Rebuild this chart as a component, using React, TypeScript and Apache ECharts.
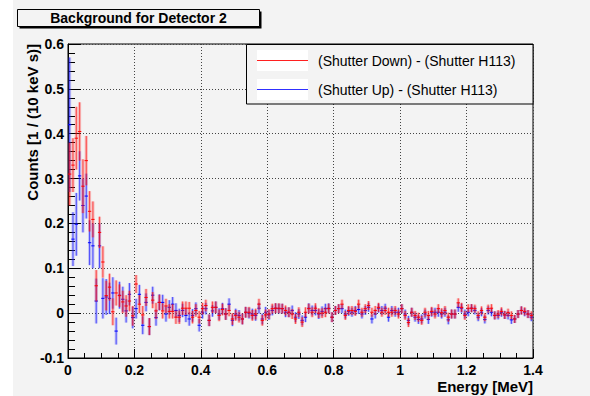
import React, { useEffect, useRef } from "react";
import * as echarts from "echarts";

// Bin width 10 keV, 140 bins from 0 to 1.4 MeV
const BIN_WIDTH = 0.01;

// (Shutter Down) - (Shutter H113)
const downValues = [
  0.31, 0.33, 0.39, 0.405, 0.283, 0.34, 0.227, 0.209, 0.061, 0.18,
  0.114, 0.039, 0.058, 0.003, 0.045, 0.039, 0.025, 0.016, 0.027, -0.006,
  0.065, 0.02, -0.004, 0.035, -0.03, 0.029, 0.005, 0.024, 0.005, 0.016,
  0.004, 0.004, -0.009, -0.009, 0.011, 0.011, 0.011, -0.009, 0.006, -0.009,
  0.01, 0.017, -0.016, 0.013, 0.013, -0.005, 0.008, -0.002, 0.006, -0.013,
  -0.005, -0.009, -0.013, 0.002, 0.002, -0.005, -0.002, 0.02, -0.016, -0.004,
  -0.002, 0.01, 0.011, 0.011, 0.01, 0.006, 0.002, -0.002, -0.013, 0.002,
  -0.02, 0.002, 0.01, 0.002, 0.011, 0.0, 0.0, 0.002, 0.01, -0.009,
  0.006, 0.01, 0.02, -0.005, 0.006, 0.006, 0.004, 0.02, 0.002, 0.01,
  0.017, 0.002, 0.006, 0.013, 0.002, 0.006, 0.002, 0.002, 0.006, -0.002,
  0.01, -0.005, -0.021, 0.002, -0.005, -0.009, -0.016, 0.002, -0.005, 0.004,
  -0.002, 0.01, 0.001, 0.006, -0.009, -0.002, -0.002, 0.023, 0.013, -0.005,
  0.011, 0.011, 0.01, -0.005, 0.006, -0.009, 0.01, 0.011, -0.005, -0.002,
  0.004, -0.004, 0.001, -0.005, -0.013, -0.002, 0.006, 0.004, -0.002, -0.005,
];
const downErrors = [
  0.07, 0.06, 0.07, 0.065, 0.06, 0.055, 0.045, 0.04, 0.035, 0.035,
  0.035, 0.033, 0.03, 0.03, 0.028, 0.025, 0.025, 0.024, 0.023, 0.022,
  0.02, 0.02, 0.02, 0.019, 0.019, 0.018, 0.018, 0.017, 0.017, 0.016,
  0.016, 0.016, 0.015, 0.015, 0.015, 0.015, 0.014, 0.014, 0.014, 0.014,
  0.013, 0.013, 0.013, 0.013, 0.013, 0.013, 0.013, 0.013, 0.013, 0.013,
  0.012, 0.012, 0.012, 0.012, 0.012, 0.012, 0.012, 0.012, 0.012, 0.012,
  0.011, 0.011, 0.011, 0.011, 0.011, 0.011, 0.011, 0.011, 0.011, 0.011,
  0.011, 0.011, 0.011, 0.011, 0.011, 0.011, 0.011, 0.011, 0.011, 0.011,
  0.01, 0.01, 0.01, 0.01, 0.01, 0.01, 0.01, 0.01, 0.01, 0.01,
  0.01, 0.01, 0.01, 0.01, 0.01, 0.01, 0.01, 0.01, 0.01, 0.01,
  0.01, 0.01, 0.01, 0.01, 0.01, 0.01, 0.01, 0.01, 0.01, 0.01,
  0.01, 0.01, 0.01, 0.01, 0.01, 0.01, 0.01, 0.01, 0.01, 0.01,
  0.009, 0.009, 0.009, 0.009, 0.009, 0.009, 0.009, 0.009, 0.009, 0.009,
  0.009, 0.009, 0.009, 0.009, 0.009, 0.009, 0.009, 0.009, 0.009, 0.009,
];

// (Shutter Up) - (Shutter H113)
const upValues = [
  0.42, 0.165, 0.198, 0.306, 0.24, 0.261, 0.157, 0.15, 0.027, 0.15,
  0.033, 0.036, 0.033, 0.045, -0.04, 0.04, 0.031, 0.005, 0.042, -0.01,
  0.01, 0.042, -0.027, 0.024, -0.03, 0.04, -0.01, 0.024, 0.024, -0.002,
  0.013, 0.02, 0.006, -0.005, 0.006, -0.005, -0.013, -0.005, 0.01, -0.027,
  0.002, 0.01, -0.016, 0.005, 0.013, -0.002, 0.01, -0.002, 0.02, -0.016,
  -0.002, -0.005, -0.013, 0.002, 0.0, -0.002, -0.005, 0.011, -0.013, 0.002,
  -0.004, 0.006, 0.011, 0.01, 0.01, 0.002, 0.002, 0.006, -0.009, -0.002,
  -0.016, -0.009, 0.011, 0.006, 0.006, -0.002, 0.004, 0.01, 0.011, -0.009,
  0.006, 0.01, 0.01, -0.002, 0.004, 0.002, 0.006, 0.008, -0.002, 0.006,
  0.013, -0.013, -0.002, 0.011, 0.006, 0.011, -0.009, 0.006, 0.002, 0.002,
  0.01, -0.002, -0.016, 0.002, -0.009, -0.014, -0.013, -0.002, -0.014, 0.002,
  0.002, 0.002, -0.002, 0.002, -0.015, -0.002, -0.002, 0.013, 0.011, -0.002,
  0.002, 0.011, 0.006, -0.009, 0.002, -0.014, 0.006, 0.002, -0.005, -0.005,
  0.001, -0.004, -0.005, -0.015, -0.013, -0.002, 0.006, 0.002, -0.002, -0.009,
];
const upErrors = [
  0.15, 0.06, 0.07, 0.055, 0.06, 0.05, 0.05, 0.05, 0.05, 0.05,
  0.045, 0.04, 0.035, 0.035, 0.03, 0.03, 0.028, 0.026, 0.025, 0.024,
  0.022, 0.021, 0.02, 0.02, 0.019, 0.019, 0.018, 0.018, 0.017, 0.017,
  0.016, 0.016, 0.016, 0.015, 0.015, 0.015, 0.015, 0.014, 0.014, 0.014,
  0.014, 0.013, 0.013, 0.013, 0.013, 0.013, 0.013, 0.013, 0.013, 0.013,
  0.012, 0.012, 0.012, 0.012, 0.012, 0.012, 0.012, 0.012, 0.012, 0.012,
  0.011, 0.011, 0.011, 0.011, 0.011, 0.011, 0.011, 0.011, 0.011, 0.011,
  0.011, 0.011, 0.011, 0.011, 0.011, 0.011, 0.011, 0.011, 0.011, 0.011,
  0.01, 0.01, 0.01, 0.01, 0.01, 0.01, 0.01, 0.01, 0.01, 0.01,
  0.01, 0.01, 0.01, 0.01, 0.01, 0.01, 0.01, 0.01, 0.01, 0.01,
  0.01, 0.01, 0.01, 0.01, 0.01, 0.01, 0.01, 0.01, 0.01, 0.01,
  0.01, 0.01, 0.01, 0.01, 0.01, 0.01, 0.01, 0.01, 0.01, 0.01,
  0.009, 0.009, 0.009, 0.009, 0.009, 0.009, 0.009, 0.009, 0.009, 0.009,
  0.009, 0.009, 0.009, 0.009, 0.009, 0.009, 0.009, 0.009, 0.009, 0.009,
];

const energies = downValues.map((_, i) => +((i + 0.5) * BIN_WIDTH).toFixed(4));

const titleText = "Background for Detector 2";
const xTitle = "Energy [MeV]";
const yTitle = "Counts [1 / (10 keV s)]";
const legendDown = "(Shutter Down) - (Shutter H113)";
const legendUp = "(Shutter Up) - (Shutter H113)";

const FONT = "'Liberation Sans', Arial, Helvetica, sans-serif";
const BG = "#f3f3f3";

function makeRender(color: string, band: string) {
  return (params: any, api: any) => {
    const x = api.value(0);
    const y = api.value(1);
    const e = api.value(2);
    const c = api.coord([x, y]);
    const t = api.coord([x, y + e]);
    const b = api.coord([x, y - e]);
    const hw = api.size([BIN_WIDTH, 0])[0] / 2;
    return {
      type: "group",
      children: [
        {
          type: "rect",
          shape: { x: c[0] - 1.5, y: t[1], width: 3, height: b[1] - t[1] },
          style: { fill: band },
        },
        {
          type: "line",
          shape: { x1: c[0], y1: t[1], x2: c[0], y2: b[1] },
          style: { stroke: color, lineWidth: 1, opacity: 0.6 },
        },
        {
          type: "line",
          shape: { x1: c[0] - hw, y1: c[1], x2: c[0] + hw, y2: c[1] },
          style: { stroke: color, lineWidth: 1 },
        },
      ],
    };
  };
}

export default function App() {
  const ref = useRef<HTMLDivElement>(null);
  useEffect(() => {
    document.body.style.margin = "0";
    const chart = echarts.init(ref.current!, null, { renderer: "svg" });
    const upData = energies.map((x, i) => [x, upValues[i], upErrors[i]]);
    const downData = energies.map((x, i) => [x, downValues[i], downErrors[i]]);
    const option: any = {
      animation: false,
      backgroundColor: "#ffffff",
      grid: {
        left: 68,
        top: 44,
        right: 57,
        bottom: 38,
        show: true,
        borderColor: "#000",
        borderWidth: 1,
        backgroundColor: "transparent",
      },
      xAxis: {
        type: "value",
        min: 0,
        max: 1.4,
        interval: 0.2,
        axisLine: { show: true, onZero: false, lineStyle: { color: "#000", width: 1 } },
        axisTick: { show: true, inside: true, length: 9, lineStyle: { color: "#000" } },
        minorTick: { show: true, splitNumber: 4, length: 5, lineStyle: { color: "#000" } },
        splitLine: { show: true, lineStyle: { color: "#444", type: [1, 2], width: 1 } },
        axisLabel: {
          color: "#000",
          fontFamily: FONT,
          fontWeight: "bold",
          fontSize: 14,
          margin: 5,
        },
      },
      yAxis: {
        type: "value",
        min: -0.1,
        max: 0.6,
        interval: 0.1,
        axisLine: { show: true, onZero: false, lineStyle: { color: "#000", width: 1 } },
        axisTick: { show: true, inside: true, length: 13, lineStyle: { color: "#000" } },
        minorTick: { show: true, splitNumber: 5, length: 7, lineStyle: { color: "#000" } },
        splitLine: { show: true, lineStyle: { color: "#444", type: [1, 2], width: 1 } },
        axisLabel: {
          color: "#000",
          fontFamily: FONT,
          fontWeight: "bold",
          fontSize: 14,
          margin: 4,
        },
      },
      series: [
        {
          type: "custom",
          name: legendUp,
          data: upData,
          clip: true,
          encode: { x: 0, y: 1 },
          renderItem: makeRender("#0000ff", "rgba(70,70,255,0.3)"),
        },
        {
          type: "custom",
          name: legendDown,
          data: downData,
          clip: true,
          encode: { x: 0, y: 1 },
          renderItem: makeRender("#ff0000", "rgba(255,50,50,0.32)"),
        },
      ],
      graphic: [
        {
          type: "rect",
          z: -100,
          silent: true,
          shape: { x: 13, y: 0, width: 577, height: 396 },
          style: { fill: BG },
        },
        // title box with shadow
        {
          type: "rect",
          z: 100,
          shape: { x: 19.5, y: 11.5, width: 242, height: 17 },
          style: { fill: "#000" },
        },
        {
          type: "rect",
          z: 101,
          shape: { x: 17.5, y: 9.5, width: 242, height: 17 },
          style: { fill: BG, stroke: "#000", lineWidth: 1 },
        },
        {
          type: "text",
          z: 102,
          x: 138.5,
          y: 18,
          style: {
            text: titleText,
            fill: "#000",
            font: `bold 14px ${FONT}`,
            align: "center",
            verticalAlign: "middle",
          },
        },
        // axis titles
        {
          type: "text",
          z: 102,
          x: 533,
          y: 386,
          style: {
            text: xTitle,
            fill: "#000",
            font: `bold 15px ${FONT}`,
            align: "right",
            verticalAlign: "middle",
          },
        },
        {
          type: "text",
          z: 102,
          x: 32,
          y: 44,
          rotation: Math.PI / 2,
          style: {
            text: yTitle,
            fill: "#000",
            font: `bold 15px ${FONT}`,
            align: "right",
            verticalAlign: "middle",
          },
        },
        // legend
        {
          type: "rect",
          z: 100,
          shape: { x: 246.5, y: 44.5, width: 286.5, height: 59.5 },
          style: { fill: BG, stroke: "#000", lineWidth: 1 },
        },
        {
          type: "rect",
          z: 101,
          shape: { x: 257, y: 50, width: 51, height: 21 },
          style: { fill: "#ffffff" },
        },
        {
          type: "rect",
          z: 101,
          shape: { x: 257, y: 79, width: 51, height: 21 },
          style: { fill: "#ffffff" },
        },
        {
          type: "line",
          z: 102,
          shape: { x1: 257, y1: 60.5, x2: 308, y2: 60.5 },
          style: { stroke: "#ff2020", lineWidth: 1.2 },
        },
        {
          type: "line",
          z: 102,
          shape: { x1: 257, y1: 89.5, x2: 308, y2: 89.5 },
          style: { stroke: "#3030ff", lineWidth: 1.2 },
        },
        {
          type: "text",
          z: 102,
          x: 318,
          y: 61,
          style: {
            text: legendDown,
            fill: "#000",
            font: `14px ${FONT}`,
            align: "left",
            verticalAlign: "middle",
          },
        },
        {
          type: "text",
          z: 102,
          x: 318,
          y: 90,
          style: {
            text: legendUp,
            fill: "#000",
            font: `14px ${FONT}`,
            align: "left",
            verticalAlign: "middle",
          },
        },
      ],
    };
    chart.setOption(option);
    return () => chart.dispose();
  }, []);
  return <div ref={ref} style={{ width: 590, height: 396 }} />;
}
